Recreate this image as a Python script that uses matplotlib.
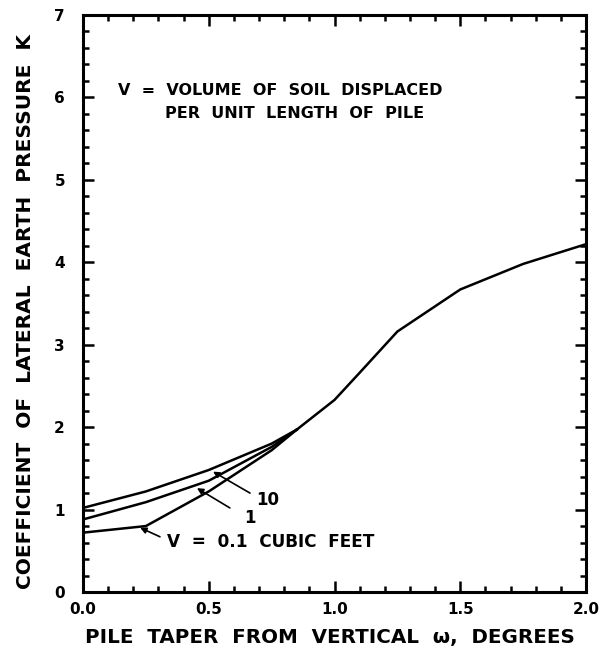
import matplotlib
matplotlib.use("Agg")
import matplotlib.pyplot as plt
from matplotlib.ticker import MultipleLocator

# Data
x_low = [0.0, 0.25, 0.5, 0.75, 0.85]
k_v10 = [1.02, 1.22, 1.48, 1.80, 1.97]
k_v1 = [0.88, 1.09, 1.35, 1.76, 1.97]
k_v01 = [0.72, 0.80, 1.22, 1.72, 1.97]
x_common = [0.85, 1.0, 1.1, 1.25, 1.5, 1.75, 2.0]
k_common = [1.97, 2.33, 2.66, 3.16, 3.67, 3.98, 4.22]

x_ticks = [0.0, 0.5, 1.0, 1.5, 2.0]
x_ticklabels = ["0.0", "0.5", "1.0", "1.5", "2.0"]
y_ticks = [0, 1, 2, 3, 4, 5, 6, 7]

plt.rcParams['font.family'] = ['DejaVu Sans']
plt.rcParams['font.weight'] = 'bold'

fig = plt.figure(figsize=(5.99, 6.56), dpi=100)
ax = fig.add_axes([83/599, 1-592/656, (586-83)/599, (592-15)/656])

lw = 1.8
for k in (k_v10, k_v1, k_v01):
    ax.plot(x_low, k, color='black', lw=lw, solid_joinstyle='round')
ax.plot(x_common, k_common, color='black', lw=lw, solid_joinstyle='round')

ax.set_xlim(0, 2.0)
ax.set_ylim(0, 7)
ax.set_xticks(x_ticks)
ax.set_xticklabels(x_ticklabels)
ax.set_yticks(y_ticks)
ax.xaxis.set_minor_locator(MultipleLocator(0.1))
ax.yaxis.set_minor_locator(MultipleLocator(0.2))
ax.tick_params(which='both', direction='in', top=True, right=True, width=1.8, color='black')
ax.tick_params(which='major', length=8, labelsize=11)
ax.tick_params(axis='y', which='major', pad=13)
ax.tick_params(axis='x', which='major', pad=7)
ax.tick_params(which='minor', length=4.5)
for lab in ax.get_xticklabels() + ax.get_yticklabels():
    lab.set_fontweight('bold')
for sp in ax.spines.values():
    sp.set_linewidth(2.2)

ax.set_xlabel("PILE  TAPER  FROM  VERTICAL  \u03c9,  DEGREES", fontsize=14.3, fontweight='bold', labelpad=8)
ax.xaxis.label.set_x(0.491)
ax.set_ylabel("COEFFICIENT  OF  LATERAL  EARTH  PRESSURE  K", fontsize=14.5, fontweight='bold', labelpad=14)
ax.yaxis.label.set_y(0.486)

ax.text(0.139, 6.09, "V  =  VOLUME  OF  SOIL  DISPLACED", fontsize=11.5, fontweight='bold', va='center', ha='left')
ax.text(0.326, 5.81, "PER  UNIT  LENGTH  OF  PILE", fontsize=11.5, fontweight='bold', va='center', ha='left')

arrow = dict(arrowstyle='-|>', color='black', lw=1.2, mutation_scale=9, shrinkA=0, shrinkB=0)
ax.annotate("", xy=(0.517, 1.46), xytext=(0.664, 1.20), arrowprops=arrow)
ax.text(0.735, 1.12, "10", fontsize=12, fontweight='bold', ha='center', va='center')
ax.annotate("", xy=(0.453, 1.26), xytext=(0.584, 1.02), arrowprops=arrow)
ax.text(0.664, 0.90, "1", fontsize=12, fontweight='bold', ha='center', va='center')
ax.annotate("", xy=(0.227, 0.78), xytext=(0.306, 0.67), arrowprops=arrow)
ax.text(0.334, 0.61, "V  =  0.1  CUBIC  FEET", fontsize=12.2, fontweight='bold', ha='left', va='center')

fig.savefig("out.png", dpi=100)
